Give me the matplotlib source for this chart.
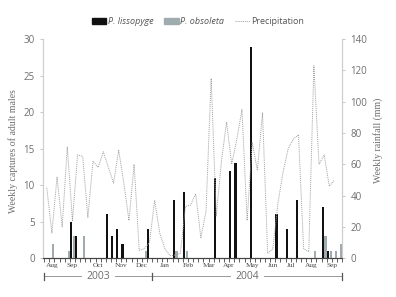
import numpy as np
import matplotlib
matplotlib.use("Agg")
import matplotlib.pyplot as plt
import matplotlib.transforms as mtransforms
from matplotlib.patches import Patch
from matplotlib.lines import Line2D

# weekly series, Aug 2003 - Sep 2004 (58 weeks)
n_weeks = 58
month_names = ['Aug', 'Sep', 'Oct', 'Nov', 'Dec', 'Jan', 'Feb',
               'Mar', 'Apr', 'May', 'Jun', 'Jul', 'Aug', 'Sep']
weeks_per_month = [3, 5, 5, 4, 4, 5, 4, 4, 4, 5, 3, 4, 4, 4]
years = ['2003', '2004']
weeks_per_year = [21, 37]

# captures (week index, count)
lisso_weeks = [5, 6, 12, 13, 14, 15, 20, 25, 27, 33, 36, 37, 40, 45, 47, 49, 54, 55]
lisso_counts = [5, 3, 6, 3, 4, 2, 4, 8, 9, 11, 12, 13, 29, 6, 4, 8, 7, 1]
obso_weeks = [1, 4, 5, 7, 19, 25, 27, 52, 54, 55, 56, 57]
obso_counts = [2, 1, 3, 3, 1, 1, 1, 1, 3, 1, 1, 2]

# weekly rainfall (mm)
rain = [45, 16, 52, 20, 71, 24, 66, 65, 26, 62, 58, 68, 58, 48, 69, 48, 24, 60,
        5, 6, 10, 37, 16, 6, 1.5, 2, 3, 33, 34, 41, 13, 30, 115, 27, 62, 87, 60,
        76, 95, 24, 74, 56, 93, 3, 6, 35, 55, 70, 76, 79, 6, 4, 123, 60, 66, 46, 50]

grey_txt = '#6e6e6e'
sans = ['Open Sans', 'DejaVu Sans']
serif = ['Liberation Serif', 'DejaVu Serif']

fig = plt.figure(figsize=(3.96, 2.97), dpi=100)
ax = fig.add_axes([0.109, 0.131, 0.755, 0.737])
ax2 = ax.twinx()

w = 0.44
ax.bar(np.array(lisso_weeks) - 0.26, lisso_counts, width=w, color='#111111', zorder=3)
ax.bar(np.array(obso_weeks) + 0.26, obso_counts, width=w, color='#9fabae', zorder=3)
ax2.plot(np.arange(len(rain)), rain, color='#a0a0a0', lw=0.7, ls=(0, (1, 1)))

ax.set_xlim(-0.7, n_weeks - 0.5)
ax.set_ylim(0, 30)
ax.set_yticks(range(0, 31, 5))
ax2.set_ylim(0, 140)
ax2.set_yticks(range(0, 141, 20))

for a in (ax, ax2):
    a.spines['top'].set_visible(False)
    a.spines['left'].set_color('#cfcfcf')
    a.spines['right'].set_color('#cfcfcf')
    a.spines['bottom'].set_color('#444444')
    a.tick_params(axis='y', colors='#bdbdbd', labelcolor=grey_txt,
                  labelsize=7, length=2.5, width=0.6)
for lab in ax.get_yticklabels() + ax2.get_yticklabels():
    lab.set_family(sans)

# weekly ticks on the x axis, months as labels
ax.set_xticks(np.arange(-0.5, n_weeks, 1))
ax.tick_params(axis='x', length=3, width=0.6, colors='#444444', labelbottom=False)
edges = np.concatenate([[0], np.cumsum(weeks_per_month)]) - 0.5
trans = mtransforms.blended_transform_factory(ax.transData, ax.transAxes)
for i, m in enumerate(month_names):
    c = (edges[i] + edges[i + 1]) / 2
    ax.text(c, -0.035, m, transform=trans, ha='center', va='center',
            fontsize=5.3, family=serif, color='#444444')

# year brackets
yedges = np.concatenate([[0], np.cumsum(weeks_per_year)]) - 0.5
yb = -0.084
for i, yr in enumerate(years):
    x0, x1 = yedges[i], yedges[i + 1]
    c = (x0 + x1) / 2
    ax.text(c, yb, yr, transform=trans, ha='center', va='center',
            fontsize=7.5, family=sans, color=grey_txt)
    gap = 3.3
    ax.plot([x0, c - gap], [yb, yb], transform=trans, color='#999999',
            lw=0.7, clip_on=False)
    ax.plot([c + gap, x1], [yb, yb], transform=trans, color='#999999',
            lw=0.7, clip_on=False)
for x in yedges:
    ax.plot([x, x], [yb - 0.018, yb + 0.018], transform=trans, color='#555555',
            lw=0.9, clip_on=False)

ax.set_ylabel('Weekly captures of adult males', family=serif, fontsize=7,
              color=grey_txt)
ax.yaxis.set_label_coords(-0.085, 0.49)
ax2.set_ylabel('Weekly rainfall (mm)', family=serif, fontsize=7,
               color=grey_txt, rotation=90)
ax2.yaxis.set_label_coords(1.104, 0.54)

handles = [Patch(color='#111111'), Patch(color='#9fabae'),
           Line2D([], [], color='#a0a0a0', lw=0.7, ls=(0, (1, 1)))]
labels = ['P. lissopyge', 'P. obsoleta', 'Precipitation']
leg = fig.legend(handles, labels, loc='center', bbox_to_anchor=(0.5, 0.926),
                 ncol=3, frameon=False, handlelength=1.6,
                 handleheight=0.6, handletextpad=0.2, columnspacing=1.2,
                 prop={'family': sans, 'size': 6.5})
for t in leg.get_texts()[:2]:
    t.set_style('italic')
for t in leg.get_texts():
    t.set_color('#555555')

fig.savefig('out.png', dpi=100)
